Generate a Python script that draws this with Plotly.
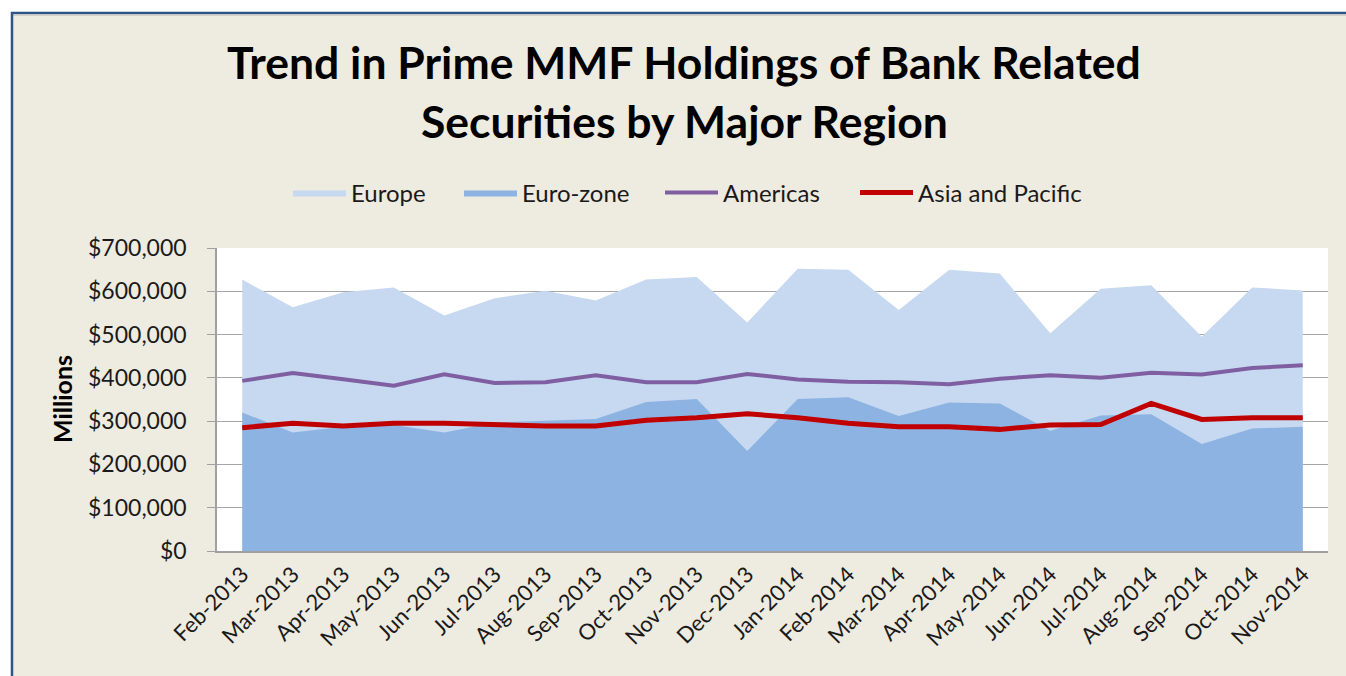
import plotly.graph_objects as go

months = ["Feb-2013", "Mar-2013", "Apr-2013", "May-2013", "Jun-2013", "Jul-2013",
          "Aug-2013", "Sep-2013", "Oct-2013", "Nov-2013", "Dec-2013", "Jan-2014",
          "Feb-2014", "Mar-2014", "Apr-2014", "May-2014", "Jun-2014", "Jul-2014",
          "Aug-2014", "Sep-2014", "Oct-2014", "Nov-2014"]

europe = [627000, 563000, 598000, 609000, 544000, 584000, 601000, 579000, 627000, 633000,
          528000, 652000, 650000, 557000, 650000, 641000, 503000, 606000, 614000, 495000,
          609000, 602000]
eurozone = [320000, 274000, 287000, 291000, 274000, 297000, 301000, 305000, 344000, 351000,
            231000, 351000, 355000, 312000, 343000, 341000, 278000, 313000, 316000, 247000,
            283000, 287000]
americas = [393000, 411000, 397000, 382000, 408000, 388000, 390000, 406000, 390000, 390000,
            409000, 396000, 391000, 390000, 385000, 398000, 406000, 400000, 412000, 408000,
            423000, 429000]
asia = [285000, 295000, 289000, 295000, 295000, 292000, 289000, 289000, 302000, 308000,
        317000, 308000, 295000, 287000, 287000, 281000, 291000, 292000, 341000, 304000,
        308000, 308000]

# body margin is removed by the post script below, so the page starts at 0,0
O = 0
W, H = 1346 - O, 676 - O
L, R, T, B = 217 - O, 1328 - O, 248 - O, 551 - O


def px(x):
    # page x pixel -> paper coordinate
    return (x - O - L) / (R - L)


def py(y):
    # page y pixel -> paper coordinate
    return (B - (y - O)) / (B - T)


FONT = "Lato"
BEIGE = "#EEEBE0"
TXT = "#1a1a1a"

fig = go.Figure()
fig.add_trace(go.Scatter(x=months, y=europe, name="Europe", mode="lines",
                         fill="tozeroy", fillcolor="#C6D9F0",
                         line=dict(width=0, color="#C6D9F0"), legend="legend"))
fig.add_trace(go.Scatter(x=months, y=eurozone, name="Euro-zone", mode="lines",
                         fill="tozeroy", fillcolor="#8DB3E2",
                         line=dict(width=0, color="#8DB3E2"), legend="legend2"))
fig.add_trace(go.Scatter(x=months, y=americas, name="Americas", mode="lines",
                         line=dict(width=4, color="#7F5FA1"), legend="legend3"))
fig.add_trace(go.Scatter(x=months, y=asia, name="Asia and Pacific", mode="lines",
                         line=dict(width=5, color="#C00000"), legend="legend4"))

shapes = [
    dict(type="rect", xref="paper", yref="paper", x0=px(-20), x1=px(1400), y0=py(-20), y1=py(12),
         fillcolor="white", line=dict(width=0), layer="above"),
    dict(type="rect", xref="paper", yref="paper", x0=px(-20), x1=px(11), y0=py(700), y1=py(12),
         fillcolor="white", line=dict(width=0), layer="above"),
    dict(type="line", xref="paper", yref="paper", x0=px(11), x1=px(1400), y0=py(13), y1=py(13),
         line=dict(color="#2F5486", width=2.5), layer="above"),
    dict(type="line", xref="paper", yref="paper", x0=px(12), x1=px(1400), y0=py(15), y1=py(15),
         line=dict(color="#C8C8C8", width=1.5), layer="above"),
    dict(type="line", xref="paper", yref="paper", x0=px(12), x1=px(12), y0=py(12), y1=py(700),
         line=dict(color="#2F5486", width=2.5), layer="above"),
]

annotations = [
    dict(text="<b>Trend in Prime MMF Holdings of Bank Related</b>", xref="paper", yref="paper",
         x=px(684), y=py(62), xanchor="center", yanchor="middle", showarrow=False,
         font=dict(family=FONT, size=44.5, color="black")),
    dict(text="<b>Securities by Major Region</b>", xref="paper", yref="paper",
         x=px(684), y=py(120), xanchor="center", yanchor="middle", showarrow=False,
         font=dict(family=FONT, size=44.5, color="black")),
    dict(text="<b>Millions</b>", xref="paper", yref="paper", textangle=-90,
         x=px(62), y=py(399), xanchor="center", yanchor="middle", showarrow=False,
         font=dict(family=FONT, size=25, color="black")),
]


def leg(xpage):
    return dict(orientation="h", x=px(xpage - 5), y=py(193), xanchor="left", yanchor="middle",
                bgcolor="rgba(0,0,0,0)", font=dict(family=FONT, size=24, color=TXT),
                itemwidth=53)


fig.update_layout(
    width=W, height=H,
    margin=dict(l=L, r=W - R, t=T, b=H - B, pad=0),
    paper_bgcolor=BEIGE, plot_bgcolor="white",
    font=dict(family=FONT, size=22, color=TXT),
    showlegend=True,
    legend=leg(293), legend2=leg(464), legend3=leg(665), legend4=leg(860),
    shapes=shapes, annotations=annotations,
)
fig.update_xaxes(type="category", range=[-0.5, 21.5], tickangle=-45, showgrid=False,
                 showline=True, linecolor="#A0A0A0", linewidth=1.5, ticks="",
                 tickfont=dict(family=FONT, size=22, color=TXT), fixedrange=True)
fig.update_yaxes(range=[0, 700000], dtick=100000, tickformat="$,d", showgrid=True,
                 gridcolor="#A6A6A6", gridwidth=1.3, showline=True, linecolor="#A0A0A0",
                 linewidth=1.5, ticks="outside", ticklen=8, tickcolor="#A0A0A0",
                 ticklabelstandoff=16,
                 tickfont=dict(family=FONT, size=23, color=TXT), zeroline=False,
                 fixedrange=True)

fig.write_html(
    "out.html",
    config={"displayModeBar": False},
    post_script="document.body.style.margin='0';"
                "document.documentElement.style.overflow='hidden';"
                "document.body.style.overflow='hidden';",
)
